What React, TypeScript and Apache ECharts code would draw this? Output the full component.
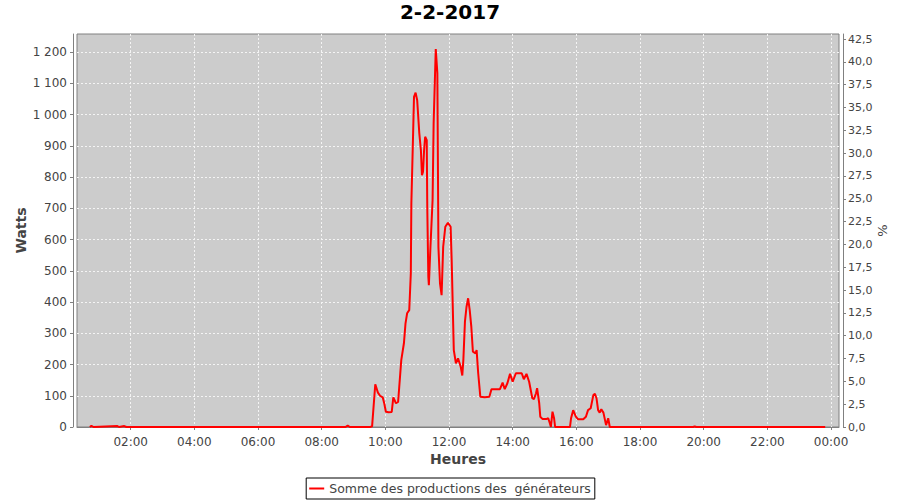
import React, { useEffect, useRef } from 'react';
import * as echarts from 'echarts';

const chartTitle = '2-2-2017';
const seriesName = 'Somme des productions des  générateurs';
const xAxisName = 'Heures';
const leftAxisName = 'Watts';
const rightAxisName = '%';

const times = [
  '00:43', '00:46', '00:50', '01:35', '01:38', '01:48', '01:52', '08:45', '08:49', '08:53',
  '09:31', '09:35', '09:41', '09:46', '09:50', '09:55', '09:58', '10:01', '10:06', '10:12',
  '10:15', '10:20', '10:24', '10:26', '10:30', '10:35', '10:38', '10:41', '10:45', '10:46',
  '10:48', '10:49', '10:52', '10:54', '10:57', '11:00', '11:04', '11:07', '11:09', '11:11',
  '11:13', '11:15', '11:18', '11:19', '11:21', '11:22', '11:25', '11:29', '11:31', '11:35',
  '11:38', '11:40', '11:43', '11:46', '11:49', '11:53', '11:58', '12:03', '12:05', '12:09',
  '12:13', '12:17', '12:22', '12:25', '12:27', '12:30', '12:33', '12:36', '12:39', '12:42',
  '12:45', '12:50', '12:52', '12:55', '12:59', '13:07', '13:16', '13:20', '13:30', '13:36',
  '13:41', '13:45', '13:50', '13:55', '14:00', '14:06', '14:17', '14:21', '14:26', '14:31',
  '14:37', '14:40', '14:44', '14:46', '14:50', '14:52', '14:56', '15:04', '15:07', '15:10',
  '15:12', '15:15', '15:18', '15:20', '15:48', '15:50', '15:54', '15:59', '16:03', '16:13',
  '16:18', '16:22', '16:27', '16:32', '16:35', '16:38', '16:41', '16:44', '16:47', '16:51',
  '16:56', '17:00', '17:03', '19:40', '19:43', '19:46', '23:49',
];

const watts = [
  0, 4, 0, 3, 0, 3, 0, 0, 5, 0,
  0, 2, 137, 110, 100, 95, 75, 49, 47, 48,
  95, 76, 80, 124, 214, 268, 332, 364, 374, 412,
  492, 716, 918, 1057, 1070, 1046, 940, 886, 806, 817,
  886, 929, 918, 705, 481, 454, 577, 726, 972, 1210,
  1132, 577, 460, 422, 577, 641, 654, 641, 534, 246,
  204, 220, 193, 165, 214, 337, 385, 412, 374, 321,
  241, 236, 246, 172, 97, 95, 97, 121, 121, 121,
  142, 121, 140, 170, 145, 172, 172, 153, 170, 145,
  92, 89, 108, 124, 76, 33, 26, 26, 28, 12,
  0, 49, 28, 0, 0, 28, 54, 33, 25, 25,
  33, 54, 60, 102, 106, 92, 54, 46, 57, 46,
  6, 28, 0, 0, 2, 0, 0,
];

const xTickHours = [2, 4, 6, 8, 10, 12, 14, 16, 18, 20, 22, 24];
const leftTicks = [0, 100, 200, 300, 400, 500, 600, 700, 800, 900, 1000, 1100, 1200];
const rightTicks = [0, 2.5, 5, 7.5, 10, 12.5, 15, 17.5, 20, 22.5, 25, 27.5, 30, 32.5, 35, 37.5, 40, 42.5];

const xMin = 0.314;
const xMax = 24.25;
const leftMax = 1258;
const rightMax = 43.05;

const FONT = 'DejaVu Sans';

function toHours(t: string): number {
  const [h, m] = t.split(':').map(Number);
  return h + m / 60;
}

function pad2(n: number): string {
  return n < 10 ? '0' + n : String(n);
}

export default function App() {
  const ref = useRef<HTMLDivElement>(null);

  useEffect(() => {
    if (!ref.current) return;
    document.body.style.margin = '0';
    const chart = echarts.init(ref.current, undefined, { renderer: 'svg' });
    const data = times.map((t, i) => [toHours(t), watts[i]]);

    const axisLineStyle = { color: '#808080', width: 1 };
    const labelStyle = { color: '#444444', fontSize: 12, fontFamily: FONT };
    const nameStyle = { color: '#444444', fontSize: 14, fontWeight: 'bold' as const, fontFamily: FONT };
    const gridLine = { show: true, lineStyle: { color: '#f4f4f4', width: 1, type: [2, 2] as number[] } };

    chart.setOption({
      animation: false,
      backgroundColor: '#ffffff',
      title: {
        text: chartTitle,
        left: 'center',
        top: 2,
        padding: 0,
        textStyle: { fontFamily: FONT, fontSize: 20, fontWeight: 'bold', color: '#000000' },
      },
      legend: {
        bottom: 1,
        left: 'center',
        padding: [4, 4, 4, 3],
        borderColor: '#000000',
        borderWidth: 1,
        borderRadius: 0,
        icon: 'rect',
        itemWidth: 15,
        itemHeight: 2,
        itemGap: 5,
        textStyle: { color: '#444444', fontSize: 12.5, fontFamily: FONT },
        data: [seriesName],
      },
      grid: {
        left: 77,
        right: 61,
        top: 34,
        height: 393,
        show: true,
        backgroundColor: '#cccccc',
        borderColor: '#808080',
        borderWidth: 1,
        containLabel: false,
        outerBoundsMode: 'none',
      },
      xAxis: {
        type: 'value',
        min: xMin,
        max: xMax,
        offset: 4,
        name: xAxisName,
        nameLocation: 'middle',
        nameGap: 21,
        nameMoveOverlap: false,
        nameTextStyle: nameStyle,
        axisLine: { show: true, lineStyle: axisLineStyle },
        axisTick: { show: true, length: 3, lineStyle: axisLineStyle, customValues: xTickHours },
        axisLabel: {
          ...labelStyle,
          margin: 5,
          customValues: xTickHours,
          formatter: (v: number) => pad2(Math.round(v) % 24) + ':00',
        },
        splitLine: gridLine,
      },
      yAxis: [
        {
          type: 'value',
          position: 'left',
          min: 0,
          max: leftMax,
          offset: 4,
          name: leftAxisName,
          nameLocation: 'middle',
          nameGap: 45,
          nameMoveOverlap: false,
          nameTextStyle: nameStyle,
          axisLine: { show: true, lineStyle: axisLineStyle },
          axisTick: { show: true, length: 3, lineStyle: axisLineStyle, customValues: leftTicks },
          axisLabel: {
            ...labelStyle,
            margin: 6,
            customValues: leftTicks,
            formatter: (v: number) =>
              v >= 1000 ? Math.floor(v / 1000) + ' ' + String(v % 1000).padStart(3, '0') : String(v),
          },
          splitLine: gridLine,
        },
        {
          type: 'value',
          position: 'right',
          min: 0,
          max: rightMax,
          offset: 4,
          name: rightAxisName,
          nameLocation: 'middle',
          nameGap: 33,
          nameMoveOverlap: false,
          nameTextStyle: { ...nameStyle, fontWeight: 'normal' as const, fontSize: 13 },
          axisLine: { show: true, lineStyle: axisLineStyle },
          axisTick: { show: true, length: 3, lineStyle: axisLineStyle, customValues: rightTicks },
          axisLabel: {
            ...labelStyle,
            fontSize: 11,
            margin: 5,
            customValues: rightTicks,
            formatter: (v: number) => v.toFixed(1).replace('.', ','),
          },
          splitLine: { show: false },
        },
      ],
      series: [
        {
          name: seriesName,
          type: 'line',
          yAxisIndex: 0,
          data,
          showSymbol: false,
          symbol: 'none',
          lineStyle: { color: '#ff0000', width: 2 },
          itemStyle: { color: '#ff0000' },
        },
      ],
    });

    return () => chart.dispose();
  }, []);

  return <div ref={ref} style={{ width: 900, height: 500 }} />;
}
